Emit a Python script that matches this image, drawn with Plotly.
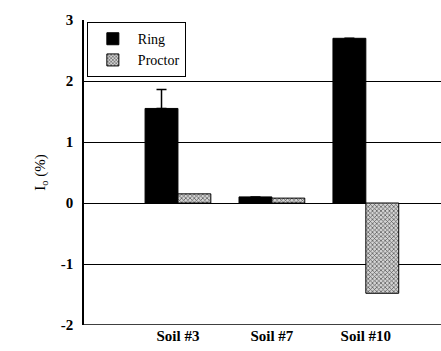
import plotly.graph_objects as go

# Soil samples and their I_o values (%) for the two preparation methods
soils = ["Soil #3", "Soil #7", "Soil #10"]
ring_values = [1.55, 0.10, 2.70]
proctor_values = [0.15, 0.08, -1.48]
ring_error_up = [0.31, None, None]

y_ticks = [-2, -1, 0, 1, 2, 3]

serif = "Liberation Serif, Times New Roman, serif"

fig = go.Figure()

fig.add_trace(go.Bar(
    name="Ring",
    x=soils,
    y=ring_values,
    marker=dict(color="black", line=dict(color="black", width=1)),
    error_y=dict(type="data", array=ring_error_up, symmetric=False,
                 arrayminus=[0, 0, 0], color="black", thickness=1.5, width=5),
))

fig.add_trace(go.Bar(
    name="Proctor",
    x=soils,
    y=proctor_values,
    marker=dict(
        color="#a8a8a8",
        line=dict(color="black", width=1),
        pattern=dict(shape="x", size=3, solidity=0.4,
                     fgcolor="#505050", bgcolor="#d4d4d4", fillmode="replace"),
    ),
))

fig.update_layout(
    width=441, height=351,
    margin=dict(l=84, r=0, t=20, b=26),
    paper_bgcolor="white", plot_bgcolor="white",
    barmode="group", bargap=0.3, bargroupgap=0,
    font=dict(family=serif, color="black", size=14),
    showlegend=True,
    legend=dict(
        x=0.008, y=0.993, xanchor="left", yanchor="top",
        bgcolor="white", bordercolor="black", borderwidth=1,
        font=dict(family=serif, size=14, color="black"),
        entrywidth=106, tracegroupgap=5, itemwidth=40,
    ),
)

fig.update_xaxes(
    type="category", range=[-1, 2.8],
    showgrid=False, showline=False, zeroline=False,
    ticks="", tickfont=dict(family=serif, size=15, color="black", weight="bold"),
)

fig.update_yaxes(
    range=[-2, 3], tickvals=y_ticks, ticktext=[str(v) for v in y_ticks],
    showgrid=True, gridcolor="black", gridwidth=1.3,
    zeroline=True, zerolinecolor="black", zerolinewidth=1.3,
    showline=True, linecolor="black", linewidth=1.5, mirror=False,
    ticks="", ticklabelstandoff=6,
    tickfont=dict(family=serif, size=15, color="black", weight="bold"),
    title=dict(text="I<sub>o</sub> (%)", font=dict(family=serif, size=15, color="black"),
               standoff=12),
)

# bottom axis line at y = -2
fig.add_shape(type="line", xref="paper", yref="y", x0=0, x1=1, y0=-2, y1=-2,
              line=dict(color="black", width=1.5))

fig.write_html("out.html")
